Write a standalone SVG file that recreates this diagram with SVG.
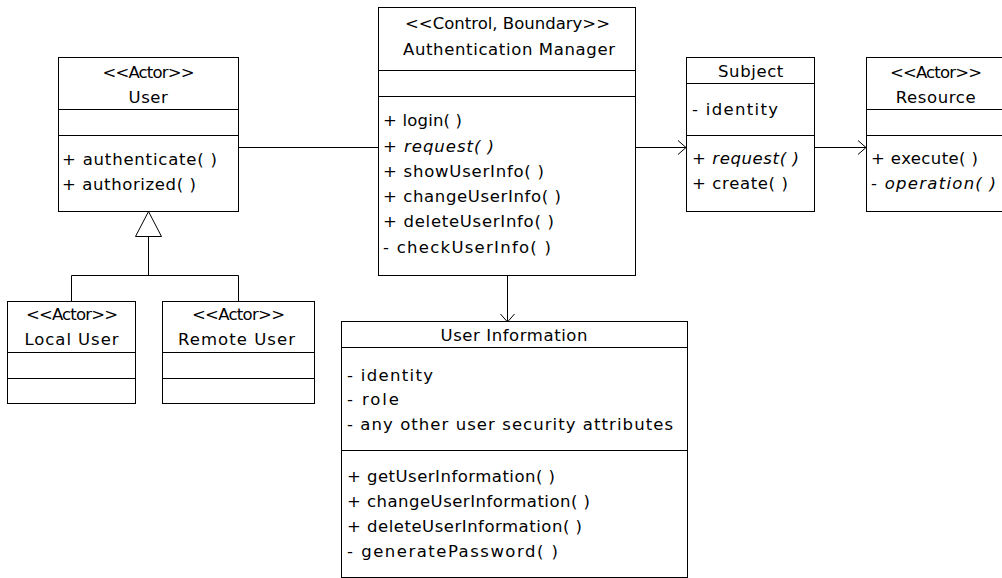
<svg xmlns="http://www.w3.org/2000/svg" width="1002" height="578" viewBox="0 0 1002 578">
<style>
.box{fill:#fff;stroke:#000;stroke-width:1}
.sep{stroke:#000;stroke-width:1}
text{font-family:"DejaVu Sans","Liberation Sans",sans-serif;font-size:16.5px;fill:#000;letter-spacing:0.6px}
.c{text-anchor:middle}
.m{letter-spacing:0}
.i{font-style:italic}
.ln{fill:none;stroke:#000;stroke-width:1}
</style>
<defs>
<marker id="open" viewBox="0 0 10 16" refX="9" refY="8" markerWidth="10" markerHeight="16" markerUnits="userSpaceOnUse" orient="auto">
<path d="M1,1 L9,8 L1,15" fill="none" stroke="#000" stroke-width="1"/>
</marker>
</defs>
<rect width="1002" height="578" fill="#fff"/>

<g id="connectors">
<line class="ln" x1="238.5" y1="147.5" x2="378.5" y2="147.5"/>
<line class="ln" x1="635.5" y1="147.5" x2="686" y2="147.5" marker-end="url(#open)"/>
<line class="ln" x1="814.5" y1="147.5" x2="866" y2="147.5" marker-end="url(#open)"/>
<line class="ln" x1="507.5" y1="275.5" x2="507.5" y2="322" marker-end="url(#open)"/>
<polygon class="ln" points="148.5,211.5 135.5,236.5 161.5,236.5"/>
<polyline class="ln" points="148.5,236.5 148.5,275.5"/>
<polyline class="ln" points="71.5,301.5 71.5,275.5 238.5,275.5 238.5,301.5"/>
</g>

<g id="user">
<rect class="box" x="58.5" y="57.5" width="180" height="154"/>
<line class="sep" x1="58.5" y1="109.5" x2="238.5" y2="109.5"/>
<line class="sep" x1="58.5" y1="135.5" x2="238.5" y2="135.5"/>
<text class="c m" x="148.5" y="78" textLength="92" lengthAdjust="spacing">&lt;&lt;Actor&gt;&gt;</text>
<text class="c" x="148.5" y="103">User</text>
<text class="m" x="62" y="165" textLength="155" lengthAdjust="spacing">+ authenticate( )</text>
<text class="m" x="62" y="190" textLength="134" lengthAdjust="spacing">+ authorized( )</text>
</g>

<g id="auth-manager">
<rect class="box" x="378.5" y="7.5" width="257" height="268"/>
<line class="sep" x1="378.5" y1="70.5" x2="635.5" y2="70.5"/>
<line class="sep" x1="378.5" y1="96.5" x2="635.5" y2="96.5"/>
<text class="c m" x="507.5" y="29" textLength="205" lengthAdjust="spacing">&lt;&lt;Control, Boundary&gt;&gt;</text>
<text class="c m" x="509" y="55" textLength="212" lengthAdjust="spacing">Authentication Manager</text>
<text class="m" x="383" y="126" textLength="79" lengthAdjust="spacing">+ login( )</text>
<text class="m" x="383" y="152" textLength="111" lengthAdjust="spacing">+ <tspan class="i">request( )</tspan></text>
<text class="m" x="383" y="177" textLength="161" lengthAdjust="spacing">+ showUserInfo( )</text>
<text class="m" x="383" y="202" textLength="178" lengthAdjust="spacing">+ changeUserInfo( )</text>
<text class="m" x="383" y="227" textLength="171" lengthAdjust="spacing">+ deleteUserInfo( )</text>
<text class="m" x="383" y="253" textLength="168" lengthAdjust="spacing">- checkUserInfo( )</text>
</g>

<g id="subject">
<rect class="box" x="686.5" y="57.5" width="128" height="154"/>
<line class="sep" x1="686.5" y1="83.5" x2="814.5" y2="83.5"/>
<line class="sep" x1="686.5" y1="135.5" x2="814.5" y2="135.5"/>
<text class="c" x="751" y="77">Subject</text>
<text class="m" x="692" y="115" textLength="86" lengthAdjust="spacing">- identity</text>
<text class="m" x="692" y="164" textLength="107" lengthAdjust="spacing">+ <tspan class="i">request( )</tspan></text>
<text class="m" x="692" y="189" textLength="96" lengthAdjust="spacing">+ create( )</text>
</g>

<g id="resource">
<rect class="box" x="866.5" y="57.5" width="140" height="154"/>
<line class="sep" x1="866.5" y1="109.5" x2="1006.5" y2="109.5"/>
<line class="sep" x1="866.5" y1="135.5" x2="1006.5" y2="135.5"/>
<text class="c m" x="936" y="78" textLength="92" lengthAdjust="spacing">&lt;&lt;Actor&gt;&gt;</text>
<text class="c" x="936" y="103">Resource</text>
<text class="m" x="871" y="164" textLength="107" lengthAdjust="spacing">+ execute( )</text>
<text class="m" x="871" y="189" textLength="125" lengthAdjust="spacing">- <tspan class="i">operation( )</tspan></text>
</g>

<g id="local-user">
<rect class="box" x="7.5" y="301.5" width="128" height="102"/>
<line class="sep" x1="7.5" y1="352.5" x2="135.5" y2="352.5"/>
<line class="sep" x1="7.5" y1="378.5" x2="135.5" y2="378.5"/>
<text class="c m" x="72" y="320" textLength="92" lengthAdjust="spacing">&lt;&lt;Actor&gt;&gt;</text>
<text class="c m" x="71.5" y="345" textLength="94" lengthAdjust="spacing">Local User</text>
</g>

<g id="remote-user">
<rect class="box" x="162.5" y="301.5" width="152" height="102"/>
<line class="sep" x1="162.5" y1="352.5" x2="314.5" y2="352.5"/>
<line class="sep" x1="162.5" y1="378.5" x2="314.5" y2="378.5"/>
<text class="c m" x="238.5" y="320" textLength="93" lengthAdjust="spacing">&lt;&lt;Actor&gt;&gt;</text>
<text class="c m" x="236.5" y="345" textLength="117" lengthAdjust="spacing">Remote User</text>
</g>

<g id="user-information">
<rect class="box" x="341.5" y="321.5" width="346" height="256"/>
<line class="sep" x1="341.5" y1="347.5" x2="687.5" y2="347.5"/>
<line class="sep" x1="341.5" y1="450.5" x2="687.5" y2="450.5"/>
<text class="c m" x="514" y="341" textLength="147" lengthAdjust="spacing">User Information</text>
<text class="m" x="347" y="381" textLength="86" lengthAdjust="spacing">- identity</text>
<text class="m" x="347" y="405" textLength="52" lengthAdjust="spacing">- role</text>
<text class="m" x="347" y="430" textLength="326" lengthAdjust="spacing">- any other user security attributes</text>
<text class="m" x="347" y="482" textLength="208" lengthAdjust="spacing">+ getUserInformation( )</text>
<text class="m" x="347" y="507" textLength="243" lengthAdjust="spacing">+ changeUserInformation( )</text>
<text class="m" x="347" y="532" textLength="235" lengthAdjust="spacing">+ deleteUserInformation( )</text>
<text class="m" x="347" y="557" textLength="211" lengthAdjust="spacing">- generatePassword( )</text>
</g>
</svg>
